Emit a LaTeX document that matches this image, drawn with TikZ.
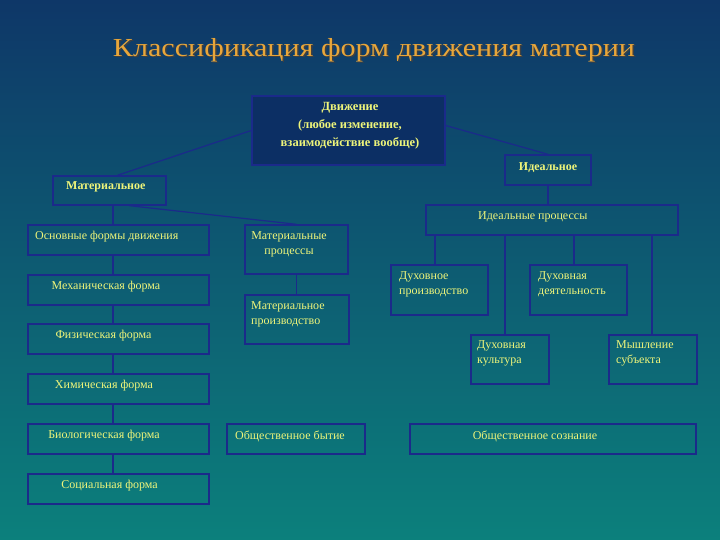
\documentclass[tikz,border=0pt]{standalone}
\usepackage{fontspec}
\setmainfont{Liberation Serif}
\usetikzlibrary{fit}
\definecolor{bgtop}{HTML}{0E3768}
\definecolor{bgbot}{HTML}{0C807C}
\definecolor{boxc}{HTML}{1B2A8A}
\definecolor{txtc}{HTML}{EEF57A}
\definecolor{titc}{HTML}{E8A63A}
\definecolor{topfill}{HTML}{0C2F64}
\begin{document}
\begin{tikzpicture}[x=1pt,y=-1pt,
  box/.style={draw=boxc, line width=1.4pt, inner sep=0pt},
  lnk/.style={draw=boxc, line width=1.2pt},
  txt/.style={text=txtc, font=\fontsize{12}{15}\selectfont, inner sep=0pt, align=left},
  btxt/.style={text=txtc, font=\fontsize{12}{18}\selectfont\bfseries, inner sep=0pt, align=center}]
\shade[top color=bgtop, bottom color=bgbot] (0,0) rectangle (720,540);
\useasboundingbox (0,0) rectangle (720,540);
% title
\node[text=black!75, inner sep=0pt] (titsh) at (375.5,51.5) {\resizebox{522pt}{\height}{\fontsize{26}{28}\selectfont Классификация форм движения материи}};
\node[text=titc, inner sep=0pt] (title) at (374,50) {\resizebox{522pt}{\height}{\fontsize{26}{28}\selectfont Классификация форм движения материи}};
% boxes
\node[box, fill=topfill, fit={(252,96)(445,165)}] (top) {};
\node[box, fit={(505,155)(591,185)}] (ideal) {};
\node[box, fit={(53,176)(166,205)}] (mat) {};
\node[box, fit={(426,205)(678,235)}] (idp) {};
\node[box, fit={(28,225)(209,255)}] (osn) {};
\node[box, fit={(245,225)(348,274)}] (mproc) {};
\node[box, fit={(245,295)(349,344)}] (mprod) {};
\node[box, fit={(28,275)(209,305)}] (mech) {};
\node[box, fit={(28,324)(209,354)}] (phys) {};
\node[box, fit={(28,374)(209,404)}] (chem) {};
\node[box, fit={(28,424)(209,454)}] (bio) {};
\node[box, fit={(28,474)(209,504)}] (soc) {};
\node[box, fit={(227,424)(365,454)}] (obyt) {};
\node[box, fit={(410,424)(696,454)}] (osoz) {};
\node[box, fit={(391,265)(488,315)}] (dprod) {};
\node[box, fit={(530,265)(627,315)}] (ddeyat) {};
\node[box, fit={(471,335)(549,384)}] (dkult) {};
\node[box, fit={(609,335)(697,384)}] (mysh) {};
% texts
\node[btxt, font=\fontsize{12.5}{18}\selectfont\bfseries] (ttop) at (350,126) {Движение\\(любое изменение,\\взаимодействие вообще)};
\node[btxt] (tideal) at (548,168) {Идеальное};
\node[btxt, anchor=west] (tmat) at (66,187) {Материальное};
\node[txt, anchor=west] (tidp) at (478,217) {Идеальные процессы};
\node[txt, anchor=west] (tosn) at (35,237) {Основные формы движения};
\node[txt, align=center] (tmproc) at (289,244.5) {Материальные\\процессы};
\node[txt, anchor=west] (tmprod) at (251,314.5) {Материальное\\производство};
\node[txt] (tmech) at (106,287) {Механическая форма};
\node[txt] (tphys) at (103.5,336) {Физическая форма};
\node[txt] (tchem) at (104,386) {Химическая форма};
\node[txt] (tbio) at (104,436) {Биологическая форма};
\node[txt] (tsoc) at (109.5,486) {Социальная форма};
\node[txt, anchor=west] (tobyt) at (235,436) {Общественное бытие};
\node[txt] (tosoz) at (535,436) {Общественное сознание};
\node[txt, anchor=west] (tdprod) at (399,284.5) {Духовное\\производство};
\node[txt, anchor=west] (tddeyat) at (538,284.5) {Духовная\\деятельность};
\node[txt, anchor=west] (tdkult) at (477,353.5) {Духовная\\культура};
\node[txt, anchor=west] (tmysh) at (616,353.5) {Мышление\\субъекта};
% connectors
\draw[lnk] (top.west) -- ([xshift=8pt]mat.north);
\draw[lnk] ([yshift=5pt]top.east) -- (ideal.north);
\draw[lnk] (ideal.south) -- (ideal.south |- idp.north);
\draw[lnk] ([xshift=3.5pt]mat.south) -- ([xshift=3.5pt]mat.south |- osn.north);
\draw[lnk] ([xshift=20pt]mat.south) -- (mproc.north);
\draw[lnk] (mproc.south) -- (mproc.south |- mprod.north);
\draw[lnk] ([xshift=-5.5pt]osn.south) -- ([xshift=-5.5pt]mech.north);
\draw[lnk] ([xshift=-5.5pt]mech.south) -- ([xshift=-5.5pt]phys.north);
\draw[lnk] ([xshift=-5.5pt]phys.south) -- ([xshift=-5.5pt]chem.north);
\draw[lnk] ([xshift=-5.5pt]chem.south) -- ([xshift=-5.5pt]bio.north);
\draw[lnk] ([xshift=-5.5pt]bio.south) -- ([xshift=-5.5pt]soc.north);
\draw[lnk] ([xshift=-4.5pt]dprod.north |- idp.south) -- ([xshift=-4.5pt]dprod.north);
\draw[lnk] ([xshift=-5pt]dkult.north |- idp.south) -- ([xshift=-5pt]dkult.north);
\draw[lnk] ([xshift=-4.5pt]ddeyat.north |- idp.south) -- ([xshift=-4.5pt]ddeyat.north);
\draw[lnk] ([xshift=-1pt]mysh.north |- idp.south) -- ([xshift=-1pt]mysh.north);
\end{tikzpicture}
\end{document}
